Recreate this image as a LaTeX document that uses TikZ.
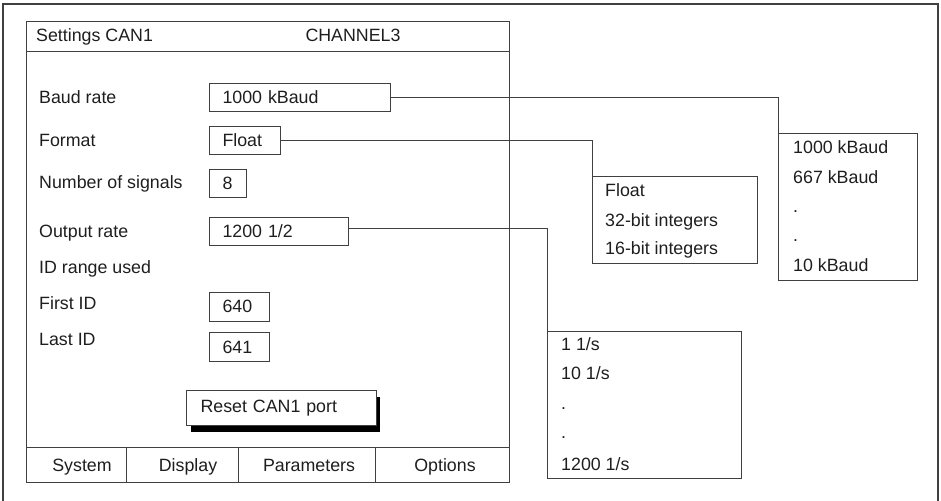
\documentclass[tikz,border=0pt]{standalone}
\usepackage{fontspec}
\setmainfont{Liberation Sans}
\usetikzlibrary{shadows}
\definecolor{ln}{HTML}{404040}
\definecolor{tx}{HTML}{1E1E1E}
\begin{document}
\begin{tikzpicture}[x=1pt,y=-1pt,
  font=\fontsize{17.8}{21}\selectfont, text=tx,
  every node/.style={inner sep=0pt},
  field/.style={draw=ln, line width=1pt, anchor=north west, minimum height=28pt, inner xsep=13pt, align=left},
  lbl/.style={anchor=base west},
  wire/.style={draw=ln, line width=1pt},
  listbox/.style={draw=ln, line width=1pt, anchor=north west},
  tabbox/.style={draw=ln, line width=1.2pt, anchor=north west, minimum height=35.3pt}]
\useasboundingbox (0,0) rectangle (941,500);
% outer frame (open at the bottom)
\draw[draw=ln, line width=1.2pt] (3,510) -- (3,4) -- (938,4) -- (938,510);
% panel
\node[draw=ln, line width=1.2pt, anchor=north west, minimum width=483.3pt, minimum height=461.3pt] (panel) at (25.7,20.7) {};
\node[draw=ln, line width=1.2pt, anchor=north west, minimum width=483.3pt, minimum height=30pt] (titlebar) at (25.7,20.7) {};
\node[lbl] (t1) at (36,41.4) {Settings CAN1};
\node[anchor=base] (t2) at (353,41.4) {CHANNEL3};
% labels
\node[lbl] (l1) at (39,103.4) {Baud rate};
\node[lbl] (l2) at (39,146.4) {Format};
\node[lbl] (l3) at (39,188.9) {Number of signals};
\node[lbl] (l4) at (39,237.4) {Output rate};
\node[lbl] (l5) at (39,273.4) {ID range used};
\node[lbl] (l6) at (39,309.4) {First ID};
\node[lbl] (l7) at (39,345.4) {Last ID};
% fields
\node[field, text width=155pt] (baud) at (209,83) {1000 kBaud};
\node[field, text width=45pt] (fmt) at (209,126) {Float};
\node[field, text width=10.6pt] (num) at (209,168.5) {8};
\node[field, text width=113pt] (out) at (209,217) {1200 1/2};
\node[field, text width=34pt, minimum height=29pt] (first) at (209,291.7) {640};
\node[field, text width=34pt, minimum height=29pt] (last) at (209,332) {641};
% reset button
\node[field, text width=161.7pt, inner xsep=14pt, minimum height=35pt, fill=white,
  drop shadow={shadow xshift=4pt, shadow yshift=-6.5pt, fill=black, opacity=1}] (reset) at (186,390) {Reset CAN1 port};
% tabs
\node[tabbox, minimum width=100pt] (tab1) at (25.7,446.7) {};
\node[tabbox, minimum width=112pt] (tab2) at (125.7,446.7) {};
\node[tabbox, minimum width=137.3pt] (tab3) at (237.7,446.7) {};
\node[tabbox, minimum width=134pt] (tab4) at (375,446.7) {};
\node[anchor=base] (tt1) at (82,471) {System};
\node[anchor=base] (tt2) at (188,471) {Display};
\node[anchor=base] (tt3) at (309,471) {Parameters};
\node[anchor=base] (tt4) at (445,471) {Options};
% baud list
\node[listbox, minimum width=139pt, minimum height=147pt] (bl) at (778,133) {};
\node[lbl] (bl1) at (793,153.1) {1000 kBaud};
\node[lbl] (bl2) at (793,183.1) {667 kBaud};
\node[lbl] (bl3) at (793,212) {.};
\node[lbl] (bl4) at (793,241.7) {.};
\node[lbl] (bl5) at (793,271.4) {10 kBaud};
% format list
\node[listbox, minimum width=165pt, minimum height=87.3pt] (fl) at (592,175.7) {};
\node[lbl] (fl1) at (605,196.4) {Float};
\node[lbl] (fl2) at (605,226.4) {32-bit integers};
\node[lbl] (fl3) at (605,254.4) {16-bit integers};
% output list
\node[listbox, minimum width=194pt, minimum height=147pt] (ol) at (547,331) {};
\node[lbl] (ol1) at (561,350.5) {1 1/s};
\node[lbl] (ol2) at (561,379.5) {10 1/s};
\node[lbl] (ol3) at (561,409.3) {.};
\node[lbl] (ol4) at (561,438.3) {.};
\node[lbl] (ol5) at (561,470) {1200 1/s};
% connectors
\draw[wire] (baud.east) -| (bl.north west);
\draw[wire] (fmt.east) -| (fl.north west);
\draw[wire] ([yshift=3pt]out.east) -| (ol.north west);
\end{tikzpicture}
\end{document}
